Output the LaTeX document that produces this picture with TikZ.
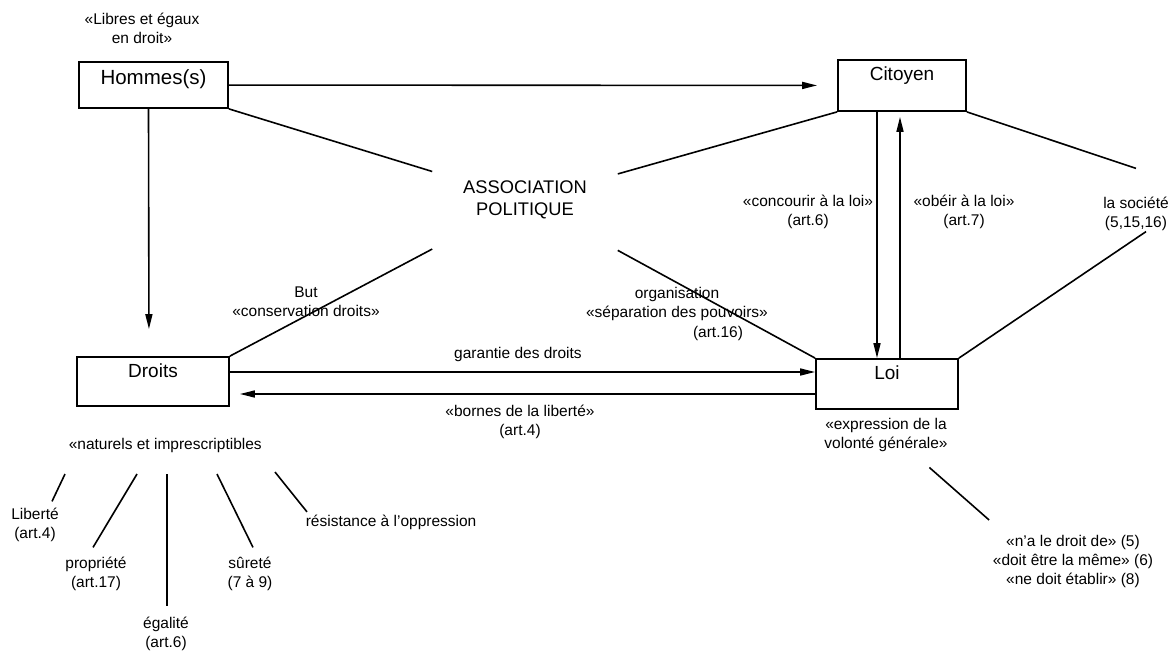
\documentclass[tikz,border=0pt]{standalone}
\usepackage{fontspec}
\setmainfont{Liberation Sans}
\usetikzlibrary{arrows.meta}

\begin{document}
\begin{tikzpicture}[x=1pt, y=-1pt, line width=1.6pt,
    box/.style={draw, line width=1.8pt, inner sep=0pt, text height=20pt,
                font=\fontsize{19}{22}\selectfont},
    txt/.style={inner sep=0pt, align=center, font=\fontsize{15.5}{19}\selectfont},
    arr/.style={-{Triangle[length=15pt,width=7pt]}}]

  \useasboundingbox (0,0) rectangle (1173,653);

  % the four boxes
  \node[box, minimum width=149pt, text height=22pt, text depth=24pt,
        font=\fontsize{20.5}{22}\selectfont] (hommes) at (153.5,85) {Hommes(s)};
  \node[box, minimum width=128pt, text depth=31pt] (citoyen) at (902,85.5) {Citoyen};
  \node[box, minimum width=152pt, text depth=29pt] (droits) at (153,381.5) {Droits};
  \node[box, minimum width=142pt, text depth=30pt] (loi) at (887,384) {Loi};

  \node[minimum width=184pt, minimum height=106pt, align=center,
        font=\fontsize{18.3}{22}\selectfont] (assoc) at (525,200) {ASSOCIATION\\POLITIQUE};

  % labels
  \node[txt] (libres) at (142,28) {«Libres et égaux\\en droit»};
  \node[txt] (but) at (306,302) {But\\«conservation droits»};
  \node[txt] (orga) at (677,304) {organisation\\«séparation des pouvoirs»};
  \node[txt] (orgart) at (718,333) {(art.16)};
  \node[txt] (concourir) at (808,212) {«concourir à la loi»\\(art.6)};
  \node[txt] (obeir) at (964,212) {«obéir à la loi»\\(art.7)};
  \node[txt] (societe) at (1136,214) {la société\\(5,15,16)};
  \node[txt] (garantie) at (518,354) {garantie des droits};
  \node[txt] (bornes) at (520,422) {«bornes de la liberté»\\(art.4)};
  \node[txt] (expr) at (886,435) {«expression de la\\volonté générale»};
  \node[txt] (droitde) at (1073,561) {«n’a le droit de» (5)\\«doit être la même» (6)\\«ne doit établir» (8)};

  \node[txt, anchor=west] (nat) at (68,445) {«naturels et imprescriptibles};
  \node[txt] (liberte) at (35,525) {Liberté\\(art.4)};
  \node[txt] (propriete) at (96,574) {propriété\\(art.17)};
  \node[txt] (egalite) at (166,634) {égalité\\(art.6)};
  \node[txt] (surete) at (250,574) {sûreté\\(7 à 9)};
  \node[txt, anchor=west] (resist) at (305,522) {résistance à l’oppression};

  % arrows
  \draw[arr, shorten >=20pt] (hommes) -- (citoyen);
  \draw[arr, shorten >=27pt] ([xshift=-5pt]hommes.south) -- ([xshift=-4pt]droits.north);
  \draw[arr] ([xshift=-25pt]citoyen.south) -- ([xshift=-25pt]citoyen.south |- loi.north);
  \draw[arr, shorten >=5pt] ([xshift=13pt]loi.north) -- ([xshift=13pt]loi.north |- citoyen.south);
  \draw[arr] ([yshift=9.5pt]droits.east) -- ([yshift=9.5pt]droits.east -| loi.west);
  \draw[arr, shorten >=10pt] ([yshift=-10pt]loi.west) -- ([yshift=-10pt]loi.west -| droits.east);

  % plain lines
  \draw (hommes.south east) -- (assoc);
  \draw (citoyen.south west) -- (assoc);
  \draw (droits.north east) -- (assoc);
  \draw (loi.north west) -- (assoc);
  \draw (citoyen.south east) -- ([yshift=28pt]societe.north);
  \draw ([xshift=10pt]societe.south) -- (loi.north east);
  \draw ([shift={(-19,15)}]expr.south east) -- ([shift={(-3,-14)}]droitde.north west);

  \draw ([shift={(-3,21)}]nat.south west) -- ([shift={(17,-6)}]liberte.north);
  \draw ([shift={(69,21)}]nat.south west) -- ([shift={(-3,-9)}]propriete.north);
  \draw ([shift={(99,21)}]nat.south west) -- ([shift={(1,-10)}]egalite.north);
  \draw ([shift={(149,21)}]nat.south west) -- ([shift={(3,-9)}]surete.north);
  \draw ([shift={(207,19)}]nat.south west) -- ([shift={(2,-2)}]resist.north west);

\end{tikzpicture}
\end{document}
